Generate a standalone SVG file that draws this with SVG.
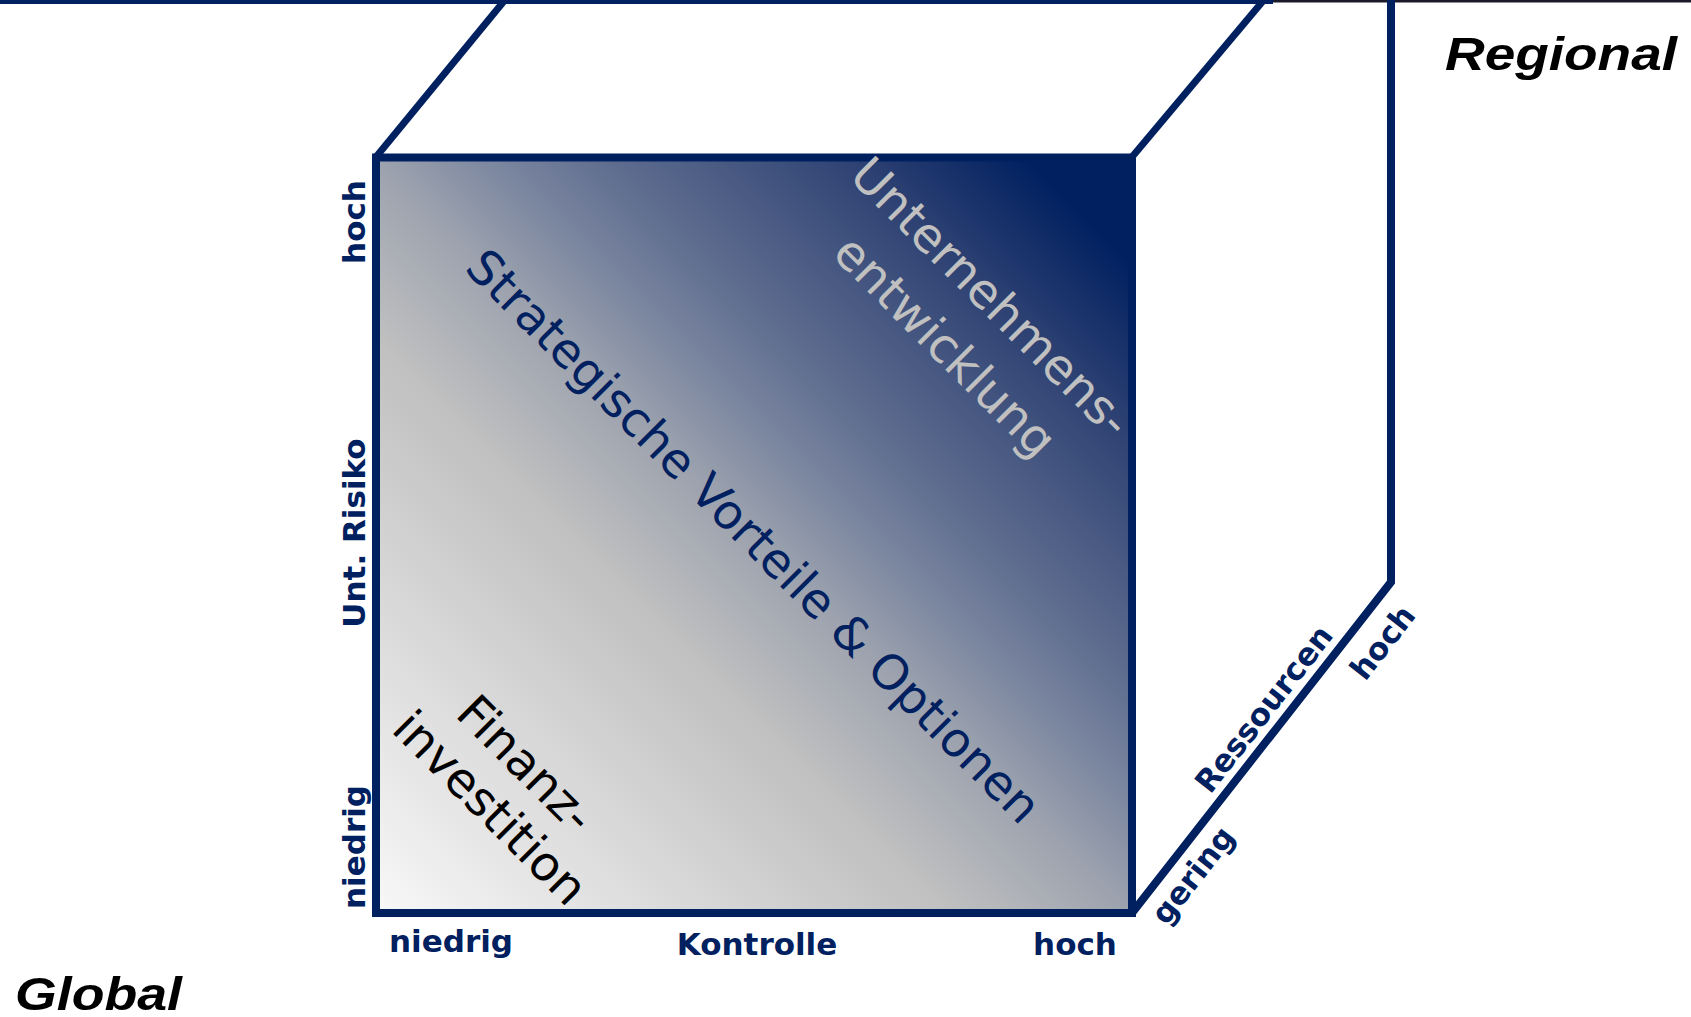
<svg xmlns="http://www.w3.org/2000/svg" width="1691" height="1017" viewBox="0 0 1691 1017">
  <defs>
    <linearGradient id="frontGrad" x1="0" y1="1" x2="1" y2="0">
      <stop offset="0" stop-color="#f8f8f8"/>
      <stop offset="0.38" stop-color="#c0c0c0"/>
      <stop offset="0.5" stop-color="#9ca2ae"/>
      <stop offset="0.573" stop-color="#7c87a0"/>
      <stop offset="0.65" stop-color="#5f6d8f"/>
      <stop offset="0.82" stop-color="#2c4072"/>
      <stop offset="0.93" stop-color="#002060"/>
      <stop offset="1" stop-color="#002060"/>
    </linearGradient>
    <style>
      .edge { fill: none; stroke: #002060; stroke-width: 7; stroke-linejoin: miter; }
      .front { fill: url(#frontGrad); stroke: #002060; stroke-width: 8; stroke-linejoin: miter; }
      .axis { font-family: "DejaVu Sans", Verdana, sans-serif; font-weight: bold; font-size: 31px; fill: #002060; }
      .diag { font-family: "DejaVu Sans", Verdana, sans-serif; font-size: 48px; }
      .corner { font-family: "Liberation Sans", Arial, sans-serif; font-weight: bold; font-style: italic; font-size: 46.5px; fill: #000000; }
    </style>
  </defs>

  <rect width="1691" height="1017" fill="#ffffff"/>

  <g id="header-line">
    <rect x="0" y="0" width="1273" height="4" fill="#002060"/>
    <rect x="1273" y="0" width="418" height="2.5" fill="#1a1a2a"/>
  </g>

  <g id="cube-edges">
    <line class="edge" x1="376" y1="157" x2="509" y2="-5"/>
    <line class="edge" x1="1132" y1="157" x2="1268" y2="-5"/>
    <polyline class="edge" points="1391,-5 1391,582 1132,913" style="stroke-width:8"/>
  </g>

  <g id="front-face">
    <rect class="front" x="376" y="157.5" width="756" height="755.5"/>
  </g>

  <g id="label-unternehmensentwicklung">
    <text class="diag" fill="#c0c0c0" text-anchor="middle" x="979.3" y="309" transform="rotate(45 979.3 309)">Unternehmens-</text>
    <text class="diag" fill="#c0c0c0" text-anchor="middle" x="933.4" y="357.8" transform="rotate(45 933.4 357.8)">entwicklung</text>
  </g>

  <g id="label-strategische">
    <text class="diag" fill="#002060" text-anchor="middle" x="741.8" y="548" transform="rotate(45 741.8 548)">Strategische Vorteile &amp; Optionen</text>
  </g>

  <g id="label-finanzinvestition">
    <text class="diag" fill="#000000" text-anchor="middle" x="514.1" y="775.7" transform="rotate(45 514.1 775.7)">Finanz-</text>
    <text class="diag" fill="#000000" text-anchor="middle" x="478.7" y="819.5" transform="rotate(45 478.7 819.5)">investition</text>
  </g>

  <g id="axis-risiko">
    <text class="axis" text-anchor="middle" x="365" y="222" transform="rotate(-90 365 222)">hoch</text>
    <text class="axis" text-anchor="middle" x="365" y="533" transform="rotate(-90 365 533)">Unt. Risiko</text>
    <text class="axis" text-anchor="middle" x="365" y="847" transform="rotate(-90 365 847)">niedrig</text>
  </g>

  <g id="axis-kontrolle">
    <text class="axis" text-anchor="middle" x="451" y="952">niedrig</text>
    <text class="axis" text-anchor="middle" x="757" y="955">Kontrolle</text>
    <text class="axis" text-anchor="middle" x="1075" y="955">hoch</text>
  </g>

  <g id="axis-ressourcen">
    <text class="axis" text-anchor="middle" x="1201.3" y="881.8" transform="rotate(-52 1201.3 881.8)">gering</text>
    <text class="axis" text-anchor="middle" x="1272.3" y="715.5" transform="rotate(-52 1272.3 715.5)">Ressourcen</text>
    <text class="axis" text-anchor="middle" x="1391" y="649" transform="rotate(-52 1391 649)">hoch</text>
  </g>

  <g id="label-regional">
    <text class="corner" x="1445" y="70" textLength="232" lengthAdjust="spacingAndGlyphs">Regional</text>
  </g>

  <g id="label-global">
    <text class="corner" x="15" y="1010" textLength="167" lengthAdjust="spacingAndGlyphs">Global</text>
  </g>
</svg>
